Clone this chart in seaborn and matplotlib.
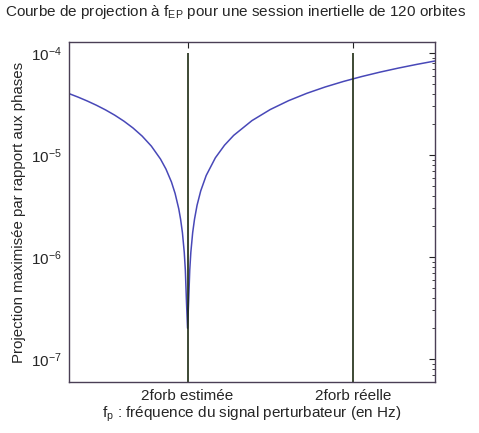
import numpy as np
import pandas as pd
import seaborn as sns
import matplotlib.pyplot as plt
from matplotlib.ticker import LogLocator, NullFormatter

# fréquence normalisée (0 = bord gauche, 1 = bord droit)
freq = [0.0, 0.025, 0.05, 0.075, 0.1, 0.125, 0.15, 0.175, 0.2, 0.225, 0.25, 0.265,
        0.28, 0.29, 0.3, 0.305, 0.31, 0.315, 0.318, 0.321, 0.324, 0.327, 0.330, 0.333,
        0.338, 0.343, 0.35, 0.36, 0.375, 0.4, 0.425, 0.45, 0.5, 0.55, 0.6, 0.65, 0.7,
        0.75, 0.8, 0.85, 0.9, 0.95, 1.0]
projection = [3.995e-5, 3.687e-5, 3.378e-5, 3.070e-5, 2.762e-5, 2.454e-5, 2.145e-5,
              1.837e-5, 1.529e-5, 1.221e-5, 9.12e-6, 7.27e-6, 5.43e-6, 4.19e-6, 2.96e-6,
              2.34e-6, 1.73e-6, 1.11e-6, 7.4e-7, 3.7e-7, 2.0e-7, 3.7e-7, 7.4e-7, 1.11e-6,
              1.73e-6, 2.34e-6, 3.21e-6, 4.44e-6, 6.29e-6, 9.37e-6, 1.245e-5, 1.554e-5,
              2.170e-5, 2.787e-5, 3.403e-5, 4.020e-5, 4.636e-5, 5.253e-5, 5.869e-5,
              6.486e-5, 7.102e-5, 7.718e-5, 8.335e-5]

marker_freqs = [0.324, 0.777]
marker_labels = ['2forb estimée', '2forb réelle']
marker_top = 1e-4

sns.set_style('white')
plt.rcParams['font.family'] = ['Liberation Sans', 'DejaVu Sans']
plt.rcParams['mathtext.fontset'] = 'custom'
plt.rcParams['mathtext.rm'] = 'Liberation Sans'

df = pd.DataFrame({'freq': freq, 'projection': projection})

fig = plt.figure(figsize=(4.79, 4.33), dpi=100)
ax = fig.add_axes([0.144, 0.118, 0.764, 0.785])

sns.lineplot(data=df, x='freq', y='projection', ax=ax, color='#4848b8', linewidth=1.1)
ax.vlines(marker_freqs, 1e-9, marker_top, color='#1c2a12', linewidth=1.2)

ax.set_yscale('log')
ax.set_xlim(0, 1)
ax.set_ylim(5.95e-8, 1.28e-4)

ax.set_xticks(marker_freqs)
ax.set_xticklabels(marker_labels, fontsize=11)
ax.yaxis.set_major_locator(LogLocator(base=10, numticks=10))
ax.yaxis.set_minor_locator(LogLocator(base=10, subs=np.arange(2, 10), numticks=10))
ax.yaxis.set_minor_formatter(NullFormatter())
ax.tick_params(axis='both', which='both', direction='in', top=True, right=True,
               color='#222222', labelsize=11, pad=5)
ax.tick_params(which='major', length=4)
ax.tick_params(which='minor', length=2)

for s in ax.spines.values():
    s.set_color('#4a3f55')
    s.set_linewidth(1.0)

ax.set_xlabel(r'f$_{\rm p}$ : fréquence du signal perturbateur (en Hz)', fontsize=11, labelpad=1)
ax.set_ylabel('Projection maximisée par rapport aux phases', fontsize=10.8, labelpad=4)

# titre réduit pour tenir dans la largeur
fig.text(0.01, 0.972, r'Courbe de projection à f$_{\rm EP}$ pour une session inertielle de 120 orbites',
         fontsize=11, ha='left', va='center')

fig.savefig('out.png', dpi=100)
